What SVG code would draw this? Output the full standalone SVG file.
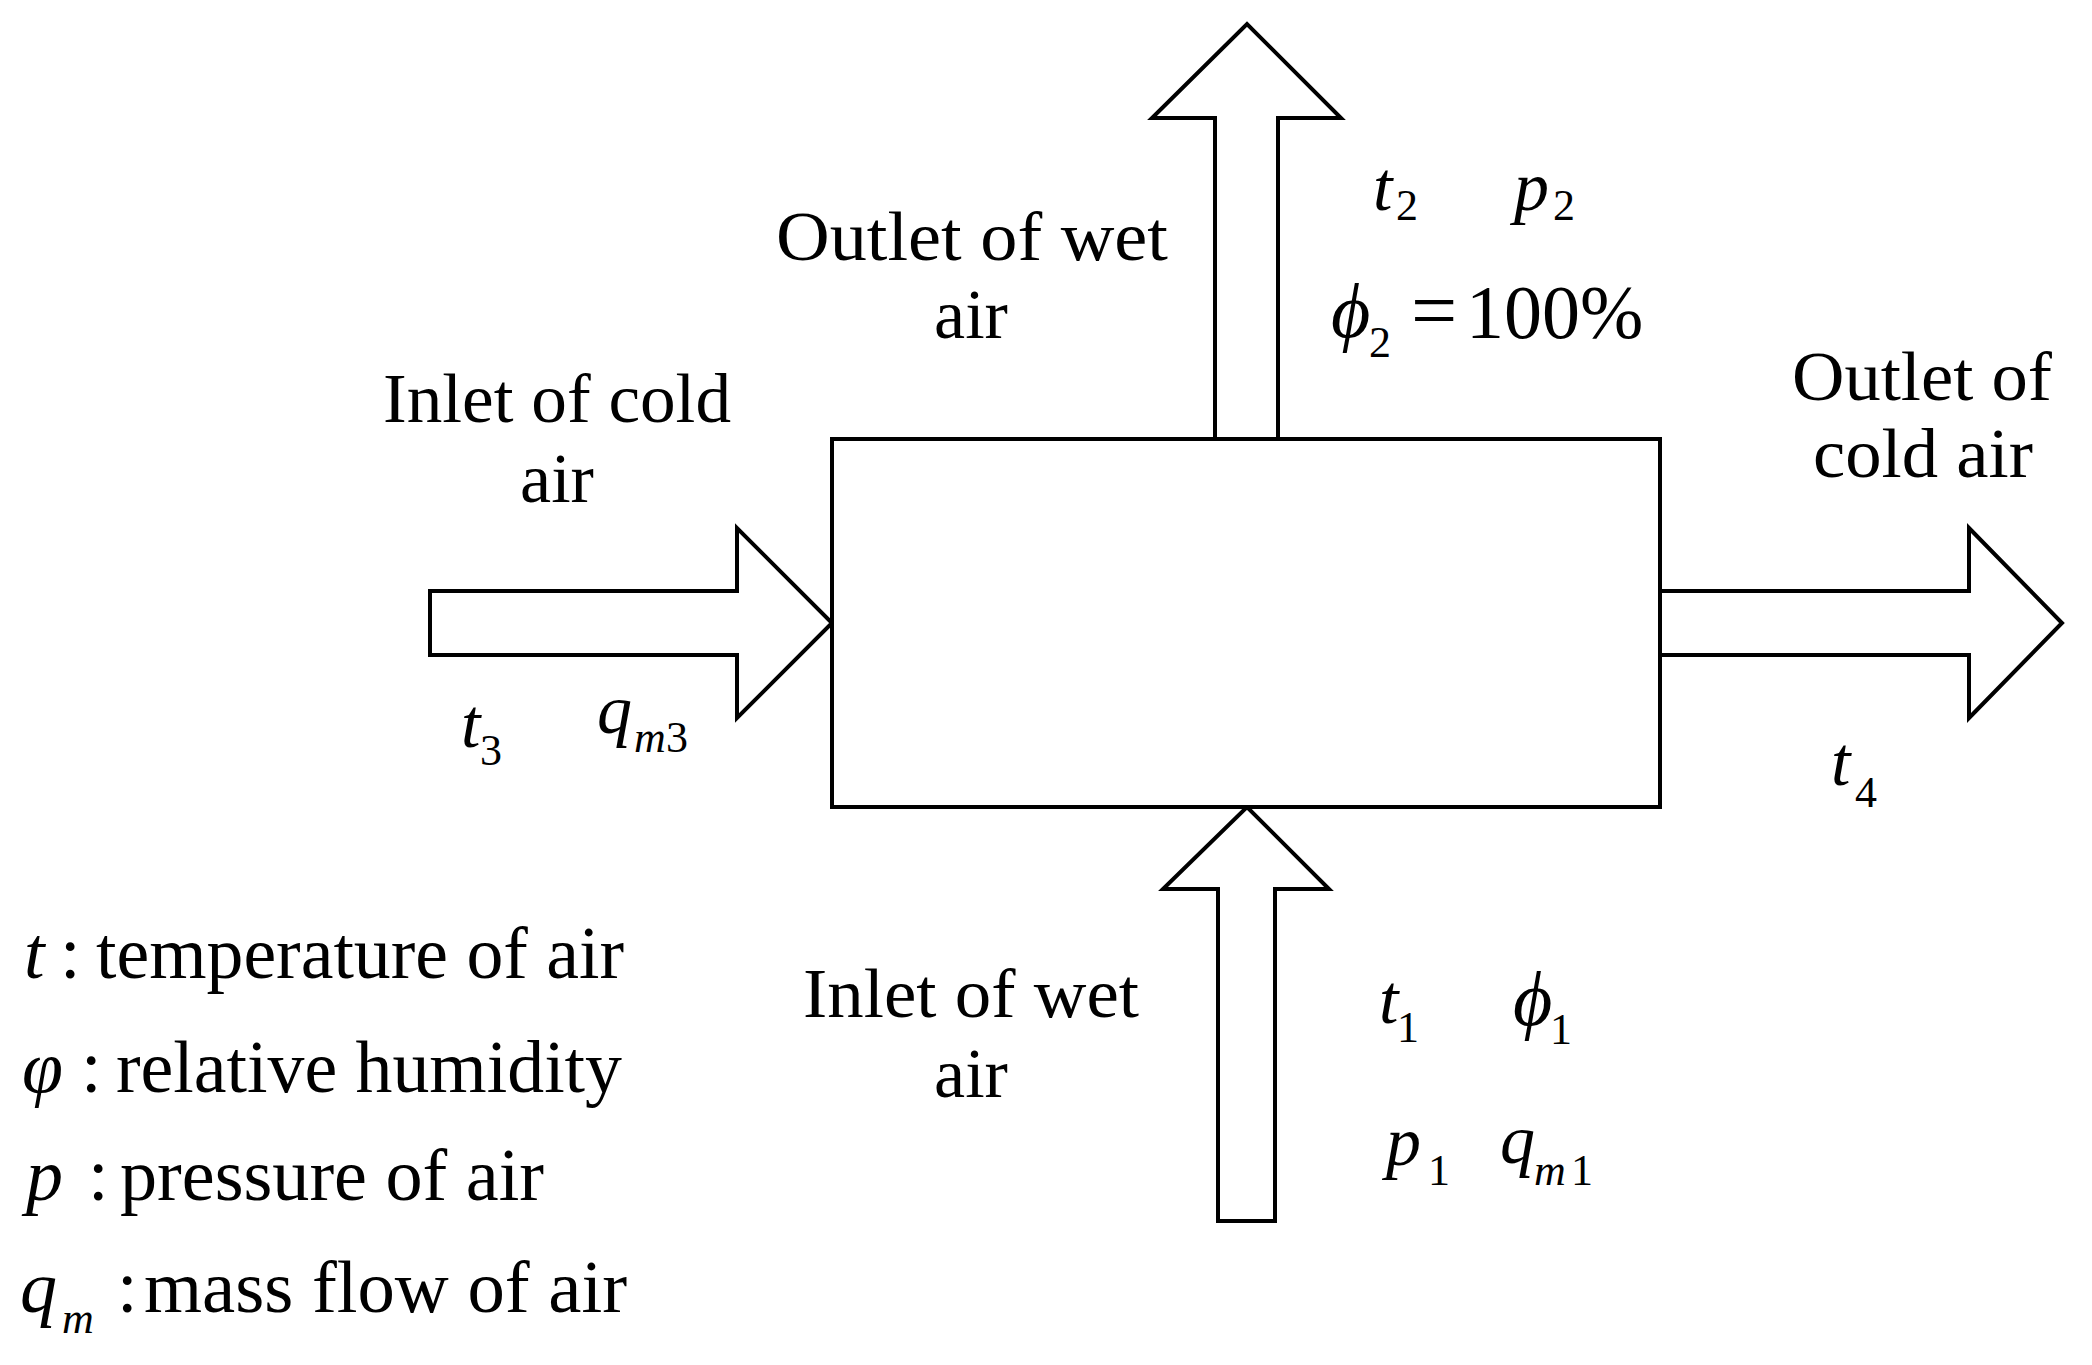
<svg xmlns="http://www.w3.org/2000/svg" width="2092" height="1365" viewBox="0 0 2092 1365">
<style>
.ln{fill:#fff;stroke:#000;stroke-width:4;stroke-linejoin:miter}
.lb{font-family:"Liberation Serif","Times New Roman",serif;font-size:70px;fill:#000}
.mi{font-family:"Liberation Serif","Times New Roman",serif;font-style:italic;font-size:70px;fill:#000}
.mn{font-family:"Liberation Serif","Times New Roman",serif;font-size:76px;fill:#000}
.sb{font-family:"Liberation Serif","Times New Roman",serif;font-size:44px;fill:#000}
.si{font-family:"Liberation Serif","Times New Roman",serif;font-style:italic;font-size:44px;fill:#000}
.lg{font-family:"Liberation Serif","Times New Roman",serif;font-size:74px;fill:#000}
.lgi{font-family:"Liberation Serif","Times New Roman",serif;font-style:italic;font-size:74px;fill:#000}
</style>
<rect width="2092" height="1365" fill="#fff"/>
<g id="connectors">
<polygon class="ln" points="1215,439 1215,118 1152,118 1247,24 1341,118 1278,118 1278,439"/>
<polygon class="ln" points="430,591 737,591 737,528 832,623 737,718 737,655 430,655"/>
<polygon class="ln" points="1660,591 1969,591 1969,528 2062,623 1969,718 1969,655 1660,655"/>
<polygon class="ln" points="1218,1221 1218,889 1163,889 1247,807 1329,889 1275,889 1275,1221"/>
</g>
<g id="box">
<rect class="ln" x="832" y="439" width="828" height="368" fill="none"/>
</g>
<g id="label-outlet-wet">
<text class="lb" x="972" y="260" text-anchor="middle" textLength="392" lengthAdjust="spacingAndGlyphs">Outlet of wet</text>
<text class="lb" x="971" y="338" text-anchor="middle">air</text>
</g>
<g id="label-inlet-cold">
<text class="lb" x="557" y="422" text-anchor="middle" textLength="348" lengthAdjust="spacingAndGlyphs">Inlet of cold</text>
<text class="lb" x="557" y="502" text-anchor="middle">air</text>
</g>
<g id="label-outlet-cold">
<text class="lb" x="1922" y="400" text-anchor="middle" textLength="260" lengthAdjust="spacingAndGlyphs">Outlet of</text>
<text class="lb" x="1923" y="477" text-anchor="middle" textLength="220" lengthAdjust="spacingAndGlyphs">cold air</text>
</g>
<g id="label-inlet-wet">
<text class="lb" x="971" y="1017" text-anchor="middle" textLength="336" lengthAdjust="spacingAndGlyphs">Inlet of wet</text>
<text class="lb" x="971" y="1097" text-anchor="middle">air</text>
</g>
<g id="vars-outlet-wet">
<text class="mi" x="1373" y="210">t</text><text class="sb" x="1396" y="220">2</text>
<text class="mi" x="1514" y="210">p</text><text class="sb" x="1553" y="220">2</text>
<text class="mi" x="1331" y="337" style="font-size:76px">ϕ</text><text class="sb" x="1369" y="357">2</text>
<text class="mn" x="1411" y="338" style="font-size:82px">=</text>
<text class="mn" x="1466" y="338">100%</text>
</g>
<g id="vars-inlet-cold">
<text class="mi" x="461" y="747">t</text><text class="sb" x="480" y="765">3</text>
<text class="mi" x="597" y="733">q</text><text class="si" x="634" y="752">m</text><text class="sb" x="666" y="752">3</text>
</g>
<g id="vars-outlet-cold">
<text class="mi" x="1831" y="785">t</text><text class="sb" x="1855" y="807">4</text>
</g>
<g id="vars-inlet-wet">
<text class="mi" x="1379" y="1023">t</text><text class="sb" x="1397" y="1042">1</text>
<text class="mi" x="1513" y="1025" style="font-size:76px">ϕ</text><text class="sb" x="1550" y="1044">1</text>
<text class="mi" x="1386" y="1165">p</text><text class="sb" x="1428" y="1185">1</text>
<text class="mi" x="1500" y="1163">q</text><text class="si" x="1534" y="1185">m</text><text class="sb" x="1571" y="1185">1</text>
</g>
<g id="legend">
<text y="978"><tspan class="lgi" x="24">t</tspan><tspan class="lg" x="60">:</tspan><tspan class="lg" x="96" textLength="528" lengthAdjust="spacingAndGlyphs">temperature of air</tspan></text>
<text y="1092"><tspan class="lgi" x="22">φ</tspan><tspan class="lg" x="81">:</tspan><tspan class="lg" x="116" textLength="506" lengthAdjust="spacingAndGlyphs">relative humidity</tspan></text>
<text y="1200"><tspan class="lgi" x="26">p</tspan><tspan class="lg" x="88">:</tspan><tspan class="lg" x="120" textLength="424" lengthAdjust="spacingAndGlyphs">pressure of air</tspan></text>
<text y="1312"><tspan class="lgi" x="20">q</tspan><tspan class="lg" x="117">:</tspan><tspan class="lg" x="144" textLength="483" lengthAdjust="spacingAndGlyphs">mass flow of air</tspan></text>
<text class="si" x="62" y="1333">m</text>
</g>
</svg>
